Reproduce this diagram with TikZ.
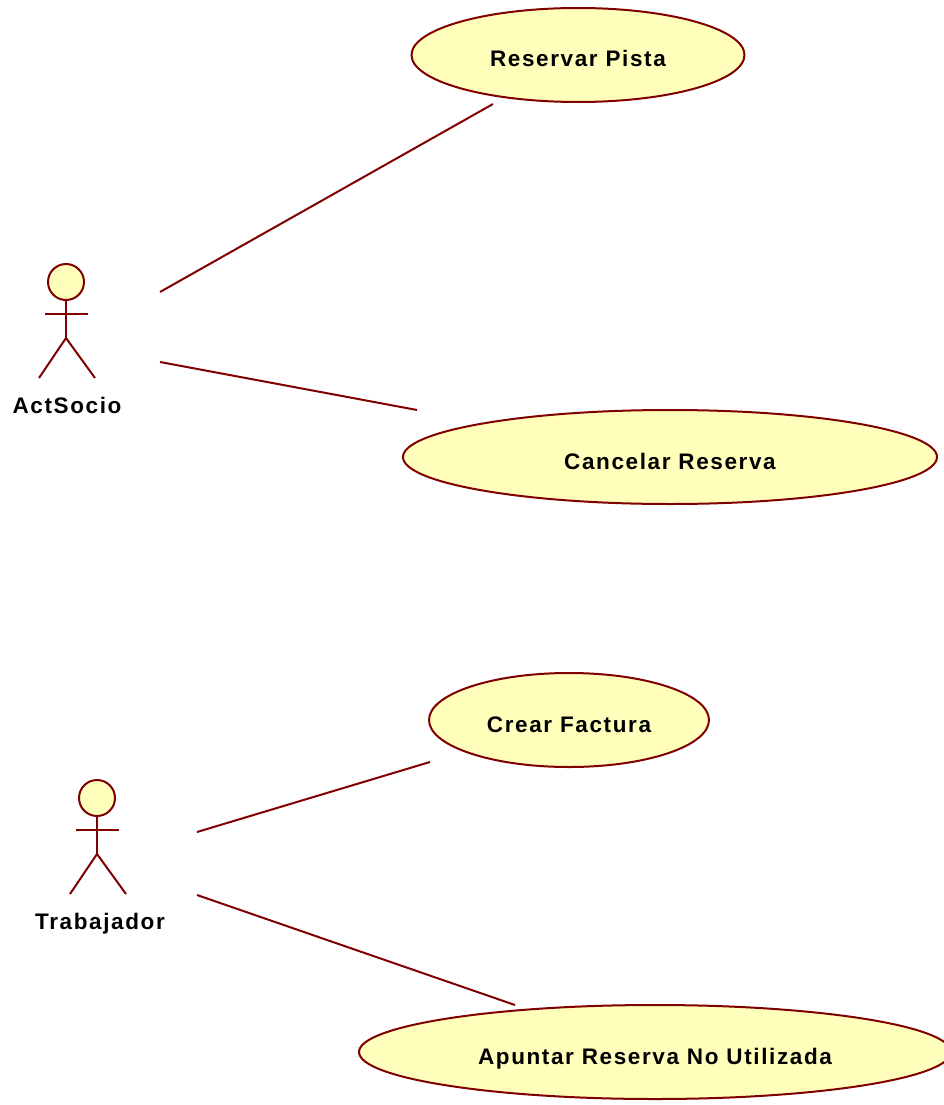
\documentclass[tikz,border=0pt]{standalone}
\usepackage{fontspec}
\setmainfont[LetterSpace=7.2]{Liberation Sans}
\usetikzlibrary{shapes.geometric}
\definecolor{umlline}{HTML}{800000}
\definecolor{umlfill}{HTML}{FFFFBB}
\tikzset{x=1pt,y=-1pt,
 usecase/.style={draw=umlline,fill=umlfill,ellipse,line width=2pt,inner sep=0pt,outer sep=0pt},
 lbl/.style={font=\fontsize{22.5}{26}\selectfont\bfseries,inner sep=0pt,anchor=base,text=black},
 limb/.style={draw=umlline,line width=2pt},
 assoc/.style={draw=umlline,line width=2pt}}
\newcommand{\ucnode}[7]{\node[usecase,minimum width=#3pt,minimum height=#4pt] (#5) at (#1,#2) {}; \node[lbl] (#5t) at (#1,#7) {#6};}
\newcommand{\actorfig}[2]{%
 \draw[limb,fill=umlfill] (#1,#2) circle (18pt);
 \draw[limb] (#1,#2+18) -- (#1,#2+56);
 \draw[limb] (#1-21,#2+32) -- (#1+22,#2+32);
 \draw[limb] (#1-27,#2+96) -- (#1,#2+56) -- (#1+29,#2+96);}
\begin{document}
\begin{tikzpicture}
\useasboundingbox (0,0) rectangle (943,1105);
\ucnode{578}{55}{333}{94}{a}{Reservar Pista}{67}
\ucnode{670}{457}{534}{94}{b}{Cancelar Reserva}{469}
\ucnode{569}{720}{280}{94}{c}{Crear Factura}{732}
\ucnode{655}{1052}{592}{94}{d}{Apuntar Reserva No Utilizada}{1064}
\actorfig{66}{282}
\actorfig{97}{798}
\node[lbl] (s) at (67,413) {ActSocio};
\node[lbl] (t) at (100,929) {Trabajador};
\coordinate (s1) at (160,292); \coordinate (a1) at (493,104);
\coordinate (s2) at (160,362); \coordinate (b1) at (417,410);
\coordinate (t1) at (197,832); \coordinate (c1) at (430,762);
\coordinate (t2) at (197,895); \coordinate (d1) at (515,1005);
\draw[assoc] (s1) -- (a1);
\draw[assoc] (s2) -- (b1);
\draw[assoc] (t1) -- (c1);
\draw[assoc] (t2) -- (d1);
\end{tikzpicture}
\end{document}
